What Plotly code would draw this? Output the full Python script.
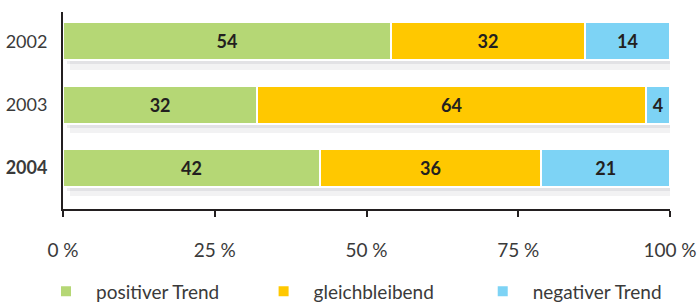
import plotly.graph_objects as go

years = ["2002", "2003", "2004"]
year_labels = ["2002", "2003", "<b>2004</b>"]
# shares as drawn (bars span the full 100 %), and the printed labels
positiv = [54, 32, 42.3]
gleich = [32, 64, 36.5]
negativ = [14, 4, 21.2]
positiv_labels = ["54", "32", "42"]
gleich_labels = ["32", "64", "36"]
negativ_labels = ["14", "4", "21"]
series_names = ["positiver Trend", "gleichbleibend", "negativer Trend"]
colors = ["#B5D775", "#FFC800", "#7DD3F5"]
x_ticks = [0, 25, 50, 75, 100]
x_tick_labels = ["0 %", "25 %", "50 %", "75 %", "100 %"]

FONT = "Lato"
TXT = "#3a3a3a"

fig = go.Figure()

# soft drop shadow: two faint layers on hidden, slightly shifted axes
totals = [a + b + c for a, b, c in zip(positiv, gleich, negativ)]
shadow_layers = [("x", "y", "rgba(70,70,90,0.07)"), ("x2", "y2", "rgba(70,70,90,0.09)")]
for xa, ya, col in shadow_layers:
    fig.add_trace(go.Bar(
        y=years, x=totals, orientation="h", xaxis=xa, yaxis=ya,
        marker=dict(color=col, line=dict(width=0)),
        showlegend=False, hoverinfo="skip",
    ))

legends = ["legend", "legend2", "legend3"]
for name, vals, labs, col, lg in zip(series_names, [positiv, gleich, negativ],
                                      [positiv_labels, gleich_labels, negativ_labels],
                                      colors, legends):
    fig.add_trace(go.Bar(
        y=years, x=vals, name=name, orientation="h",
        xaxis="x3", yaxis="y3", legend=lg,
        marker=dict(color=col, line=dict(color="white", width=2)),
        text=labs, textposition="inside",
        insidetextanchor="middle", textangle=0,
        textfont=dict(family=FONT, size=18, color="#231F20", weight="bold"),
        hoverinfo="skip",
    ))

legend_x = [-0.0445, 0.314, 0.675]
leg_common = dict(orientation="h", xanchor="left", y=-0.322, yanchor="top",
                  itemwidth=50, bgcolor="rgba(0,0,0,0)",
                  font=dict(family=FONT, size=19, color=TXT))

fig.update_layout(
    barmode="stack",
    bargap=0.4,
    width=697, height=303,
    margin=dict(l=63, r=27, t=12, b=94, autoexpand=False),
    paper_bgcolor="white", plot_bgcolor="white",
    font=dict(family=FONT, size=18, color=TXT),
    showlegend=True,
    legend=dict(x=legend_x[0], **leg_common),
    legend2=dict(x=legend_x[1], **leg_common),
    legend3=dict(x=legend_x[2], **leg_common),
    uniformtext=dict(mode="show", minsize=10),
    hovermode=False,
    xaxis=dict(visible=False, range=[-1.15, 98.85]),
    yaxis=dict(visible=False, categoryorder="array", categoryarray=years,
               range=[2.50, -0.611]),
    xaxis2=dict(visible=False, overlaying="x", range=[-0.66, 99.34]),
    yaxis2=dict(visible=False, overlaying="y", categoryorder="array", categoryarray=years,
                range=[2.583, -0.528]),
    xaxis3=dict(overlaying="x", anchor="y3", side="bottom",
                range=[0, 100], tickvals=x_ticks, ticktext=x_tick_labels,
                showline=True, linecolor="#231F20", linewidth=2,
                ticks="outside", ticklen=6, tickwidth=2, tickcolor="#231F20",
                showgrid=False, zeroline=False, automargin=False,
                ticklabelstandoff=17,
                tickfont=dict(family=FONT, size=19, color=TXT)),
    yaxis3=dict(overlaying="y", anchor="x3", side="left",
                categoryorder="array", categoryarray=years,
                tickvals=years, ticktext=year_labels,
                range=[2.646, -0.465],
                showline=True, linecolor="#231F20", linewidth=2,
                ticks="", ticklabelstandoff=10, showgrid=False, automargin=False,
                tickfont=dict(family=FONT, size=18, color=TXT)),
)

fig.write_html("out.html", config={"displayModeBar": False},
               post_script="document.body.style.margin='0';")
